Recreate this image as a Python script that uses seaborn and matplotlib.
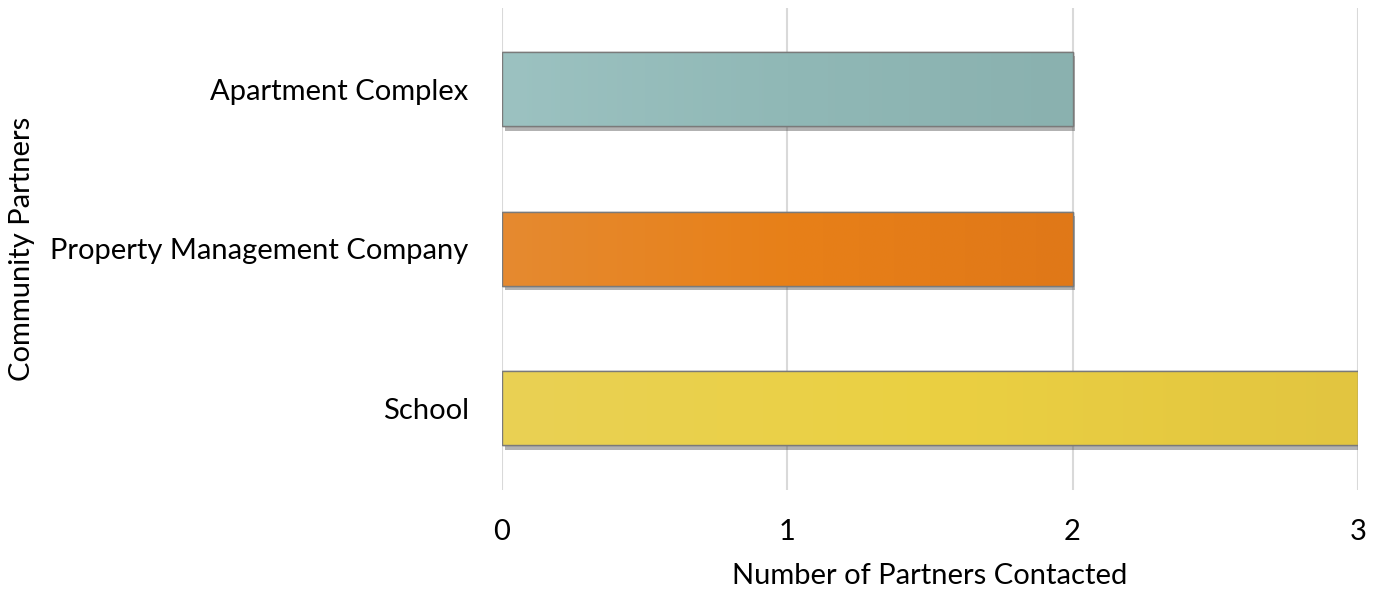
import numpy as np
import pandas as pd
import matplotlib
matplotlib.use("Agg")
import matplotlib.pyplot as plt
import matplotlib.patheffects as pe
from matplotlib.colors import LinearSegmentedColormap
from matplotlib.patches import Rectangle
import seaborn as sns

categories = ["Apartment Complex", "Property Management Company", "School"]
partners_contacted = [2, 2, 3]
bar_colors = ["#8fb6b4", "#e47d1c", "#e6cb44"]
gradient_stops = [
    ["#9cc2c1", "#90b8b6", "#8ab1af"],
    ["#e58a30", "#e88018", "#e07818"],
    ["#e9d154", "#ebd042", "#e2c540"],
]
x_ticks = [0, 1, 2, 3]

sns.set_theme(style="white")
plt.rcParams["font.family"] = ["Lato", "DejaVu Sans"]
plt.rcParams["text.color"] = "#000000"
plt.rcParams["axes.labelcolor"] = "#000000"

df = pd.DataFrame({"partner": categories, "count": partners_contacted})

fig = plt.figure(figsize=(13.75, 5.9), dpi=100)
ax = fig.add_axes([0.365, 0.17, 0.6225, 0.8165])

sns.barplot(data=df, y="partner", x="count", hue="partner", palette=bar_colors,
            orient="h", width=0.465, legend=False, ax=ax, saturation=1,
            edgecolor="#7a7a7a", linewidth=1.0)

# gradient fill, drop shadow and outline for every bar
for patch, stops in zip(ax.patches, gradient_stops):
    patch.set_path_effects([
        pe.SimplePatchShadow(offset=(2.0, -3.0), shadow_rgbFace="#555555", alpha=0.45),
        pe.Normal(),
    ])
    x0, y0 = patch.get_x(), patch.get_y()
    w, h = patch.get_width(), patch.get_height()
    cmap = LinearSegmentedColormap.from_list("bar", stops)
    grad = np.linspace(0, 1, 256).reshape(1, -1)
    im = ax.imshow(grad, cmap=cmap, aspect="auto", interpolation="bicubic",
                   extent=(x0, x0 + w, y0 + h, y0), zorder=patch.get_zorder() + 0.1)
    im.set_clip_path(patch)
    ax.add_patch(Rectangle((x0, y0), w, h, fill=False, edgecolor="#7a7a7a",
                           linewidth=1.0, zorder=patch.get_zorder() + 0.2))

ax.set_xlim(0, 3)
ax.set_ylim(2.51, -0.51)
ax.set_xticks(x_ticks)
ax.set_xticklabels([str(t) for t in x_ticks])
ax.xaxis.grid(True, color="#d9d9d9", linewidth=1.5)
ax.yaxis.grid(False)
ax.set_axisbelow(True)
for s in ax.spines.values():
    s.set_visible(False)
ax.tick_params(axis="both", length=0, labelsize=21, colors="#000000")
ax.tick_params(axis="y", pad=24)
ax.tick_params(axis="x", pad=21)
ax.set_xlabel("Number of Partners Contacted", fontsize=21, labelpad=13)
ax.set_ylabel("Community Partners", fontsize=21)
ax.yaxis.set_label_coords(-0.545, 0.5)

fig.savefig("out.png", dpi=100)
